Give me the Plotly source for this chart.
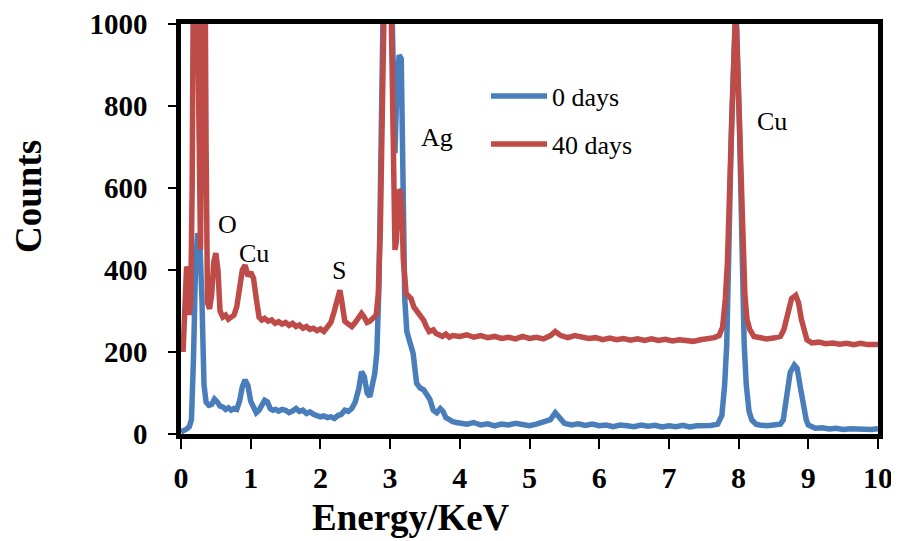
import plotly.graph_objects as go

# ---- data ----
energy_0d = [0.00, 0.04, 0.08, 0.12, 0.15, 0.18, 0.21, 0.24, 0.27, 0.30, 0.33, 0.36, 0.40, 0.44, 0.48,
             0.52, 0.56, 0.60, 0.64, 0.68, 0.72, 0.76, 0.80, 0.84, 0.88, 0.92, 0.96, 1.00, 1.04, 1.08,
             1.12, 1.16, 1.20, 1.24, 1.28, 1.32, 1.36, 1.40, 1.45, 1.50, 1.55, 1.60, 1.65, 1.70, 1.75,
             1.80, 1.85, 1.90, 1.95, 2.00, 2.05, 2.10, 2.15, 2.20, 2.25, 2.30, 2.35, 2.40, 2.45, 2.50,
             2.55, 2.59, 2.63, 2.67, 2.71, 2.75, 2.78, 2.81, 2.84, 2.87, 2.90, 2.94, 2.98, 3.02, 3.05,
             3.07, 3.10, 3.13, 3.16, 3.19, 3.21, 3.24, 3.28, 3.33, 3.38, 3.43, 3.48, 3.52, 3.57, 3.62,
             3.67, 3.72, 3.76, 3.80, 3.85, 3.90, 3.95, 4.00, 4.10, 4.20, 4.30, 4.40, 4.50, 4.60, 4.70,
             4.80, 4.90, 5.00, 5.10, 5.20, 5.30, 5.37, 5.43, 5.50, 5.60, 5.70, 5.80, 5.90, 6.00, 6.10,
             6.20, 6.30, 6.40, 6.50, 6.60, 6.70, 6.80, 6.90, 7.00, 7.10, 7.20, 7.30, 7.40, 7.50, 7.60,
             7.70, 7.76, 7.80, 7.83, 7.86, 7.90, 7.95, 7.97, 8.01, 8.05, 8.08, 8.11, 8.15, 8.19, 8.25,
             8.30, 8.40, 8.50, 8.60, 8.64, 8.69, 8.74, 8.80, 8.84, 8.89, 8.93, 8.97, 9.00, 9.10, 9.20,
             9.30, 9.40, 9.50, 9.60, 9.70, 9.80, 9.90, 10.00]
counts_0d = [5, 8, 12, 18, 35, 190, 420, 490, 470, 330, 120, 78, 70, 72, 85,
             78, 68, 66, 60, 64, 58, 62, 60, 80, 115, 132, 118, 80, 62, 52,
             58, 68, 82, 78, 62, 58, 60, 56, 60, 58, 52, 56, 62, 55, 58,
             50, 54, 48, 46, 42, 44, 40, 42, 38, 45, 48, 58, 55, 62, 78,
             110, 152, 140, 100, 91, 120, 148, 200, 360, 700, 1100, 1500, 1450, 1100, 800,
             685, 860, 924, 915, 603, 330, 250, 220, 197, 124, 112, 108, 100, 85, 58,
             52, 62, 55, 40, 34, 30, 28, 27, 24, 28, 22, 25, 20, 24, 22,
             26, 22, 20, 24, 28, 35, 52, 38, 26, 22, 25, 21, 24, 20, 22,
             18, 22, 20, 18, 22, 19, 21, 17, 20, 18, 21, 17, 20, 19, 21,
             24, 45, 120, 220, 450, 766, 1000, 1000, 766, 441, 220, 120, 55, 34, 24,
             22, 20, 22, 24, 34, 100, 150, 168, 160, 110, 70, 35, 22, 14, 15,
             12, 14, 11, 13, 12, 14, 11, 13]

energy_40d = [0.03, 0.06, 0.08, 0.10, 0.12, 0.14, 0.16, 0.18, 0.21, 0.24, 0.26, 0.28, 0.30, 0.33, 0.36,
              0.38, 0.41, 0.44, 0.47, 0.50, 0.53, 0.56, 0.60, 0.64, 0.68, 0.72, 0.76, 0.80, 0.84, 0.88,
              0.92, 0.96, 1.00, 1.04, 1.08, 1.12, 1.16, 1.20, 1.25, 1.30, 1.35, 1.40, 1.45, 1.50, 1.55,
              1.60, 1.65, 1.70, 1.75, 1.80, 1.85, 1.90, 1.95, 2.00, 2.05, 2.10, 2.15, 2.20, 2.25, 2.28,
              2.31, 2.35, 2.40, 2.45, 2.50, 2.55, 2.59, 2.63, 2.67, 2.71, 2.76, 2.80, 2.83, 2.86, 2.89,
              2.92, 2.96, 3.00, 3.03, 3.05, 3.07, 3.09, 3.12, 3.15, 3.17, 3.19, 3.23, 3.27, 3.30, 3.34,
              3.38, 3.43, 3.48, 3.52, 3.56, 3.62, 3.66, 3.70, 3.75, 3.80, 3.85, 3.90, 4.00, 4.10, 4.20,
              4.30, 4.40, 4.50, 4.60, 4.70, 4.80, 4.90, 5.00, 5.10, 5.20, 5.30, 5.37, 5.45, 5.55, 5.65,
              5.75, 5.85, 5.95, 6.05, 6.15, 6.25, 6.35, 6.45, 6.55, 6.65, 6.75, 6.85, 6.95, 7.05, 7.15,
              7.25, 7.35, 7.45, 7.55, 7.65, 7.72, 7.77, 7.81, 7.84, 7.88, 7.91, 7.95, 7.97, 8.00, 8.04,
              8.07, 8.09, 8.12, 8.16, 8.22, 8.30, 8.40, 8.50, 8.60, 8.65, 8.70, 8.76, 8.82, 8.86, 8.90,
              8.94, 8.98, 9.05, 9.15, 9.25, 9.35, 9.45, 9.55, 9.65, 9.75, 9.85, 9.95, 10.00]
counts_40d = [200, 330, 408, 400, 290, 330, 600, 1200, 1600, 1000, 600, 450, 900, 1600, 700,
              320, 305, 340, 420, 441, 400, 300, 285, 290, 280, 285, 290, 310, 350, 400,
              412, 385, 395, 380, 330, 285, 278, 282, 275, 278, 270, 274, 268, 272, 265,
              270, 262, 266, 258, 262, 255, 258, 252, 256, 250, 262, 272, 300, 340, 351,
              320, 275, 268, 262, 272, 285, 294, 285, 272, 275, 282, 290, 340, 500, 800,
              1200, 1500, 1200, 800, 506, 449, 470, 595, 590, 540, 424, 343, 335, 331, 310,
              302, 290, 278, 262, 250, 254, 245, 242, 238, 244, 236, 240, 238, 242, 236,
              240, 235, 238, 233, 236, 232, 238, 233, 236, 232, 240, 250, 240, 235, 240,
              236, 233, 235, 230, 234, 230, 233, 229, 232, 228, 232, 228, 231, 227, 230,
              228, 226, 230, 232, 235, 240, 260, 330, 420, 644, 846, 1000, 990, 846, 644,
              420, 340, 280, 255, 238, 235, 232, 234, 238, 255, 295, 330, 338, 320, 280,
              250, 230, 222, 224, 220, 222, 219, 221, 218, 221, 218, 220, 218]

series_names = ["0 days", "40 days"]
series_colors = ["#4a7ebb", "#be4b48"]

peak_labels = ["O", "Cu", "S", "Ag", "Cu"]
peak_label_x = [0.66, 1.05, 2.27, 3.67, 8.48]
peak_label_y = [512, 441, 398, 724, 761]

x_ticks = [0, 1, 2, 3, 4, 5, 6, 7, 8, 9, 10]
y_ticks = [0, 200, 400, 600, 800, 1000]

SERIF = "Liberation Serif, Times New Roman, serif"

# page has an 8px body margin; figure sized so that it fits the 899x541 window
W, H = 891, 533
L, T = 173, 16
PW, PH = 697, 410

fig = go.Figure()
for name, xs, ys, col, grp in [
    (series_names[0], energy_0d, counts_0d, series_colors[0], "a"),
    (series_names[1], energy_40d, counts_40d, series_colors[1], "b"),
]:
    fig.add_trace(go.Scatter(x=xs, y=ys, mode="lines", name=name, legendgroup=grp,
                             line=dict(color=col, width=5.5)))

for t, xv, yv in zip(peak_labels, peak_label_x, peak_label_y):
    fig.add_annotation(x=xv, y=yv, text=t, showarrow=False, xref="x", yref="y",
                       xanchor="center", yanchor="middle",
                       font=dict(family=SERIF, size=26, color="black"))

# axis titles (page coords -> paper coords; page = internal + 8)
fig.add_annotation(x=(411 - 8 - L) / PW, y=(T + PH - (517 - 8)) / PH, xref="paper", yref="paper",
                   text="Energy/KeV", showarrow=False, xanchor="center", yanchor="middle",
                   font=dict(family=SERIF, size=37, color="black", weight="bold"))
fig.add_annotation(x=(28 - 8 - L) / PW, y=(T + PH - (197 - 8)) / PH, xref="paper", yref="paper",
                   text="Counts", textangle=-90, showarrow=False, xanchor="center", yanchor="middle",
                   font=dict(family=SERIF, size=37, color="black", weight="bold"))

fig.update_layout(
    width=W, height=H,
    margin=dict(l=L, r=W - L - PW, t=T, b=H - T - PH, autoexpand=False),
    paper_bgcolor="white", plot_bgcolor="white",
    showlegend=True,
    legend=dict(x=(478 - L) / PW, y=(T + PH - 64.7) / PH, xanchor="left", yanchor="top",
                font=dict(family=SERIF, size=26, color="black"),
                bgcolor="rgba(0,0,0,0)", itemwidth=56, tracegroupgap=11, traceorder="grouped"),
)
fig.update_xaxes(range=[0, 10], tickvals=x_ticks, showgrid=False, zeroline=False, automargin=False,
                 showline=True, linecolor="black", linewidth=4.5, mirror=True,
                 ticks="outside", ticklen=10, tickwidth=2, tickcolor="black", ticklabelstandoff=3,
                 tickfont=dict(family=SERIF, size=30, color="black", weight="bold"))
fig.update_yaxes(range=[0, 1000], tickvals=y_ticks, showgrid=False, zeroline=False, automargin=False,
                 showline=True, linecolor="black", linewidth=4.5, mirror=True,
                 ticks="outside", ticklen=8, tickwidth=2, tickcolor="black", ticklabelstandoff=15,
                 tickfont=dict(family=SERIF, size=29, color="black", weight="bold"))

fig.write_html("out.html")
